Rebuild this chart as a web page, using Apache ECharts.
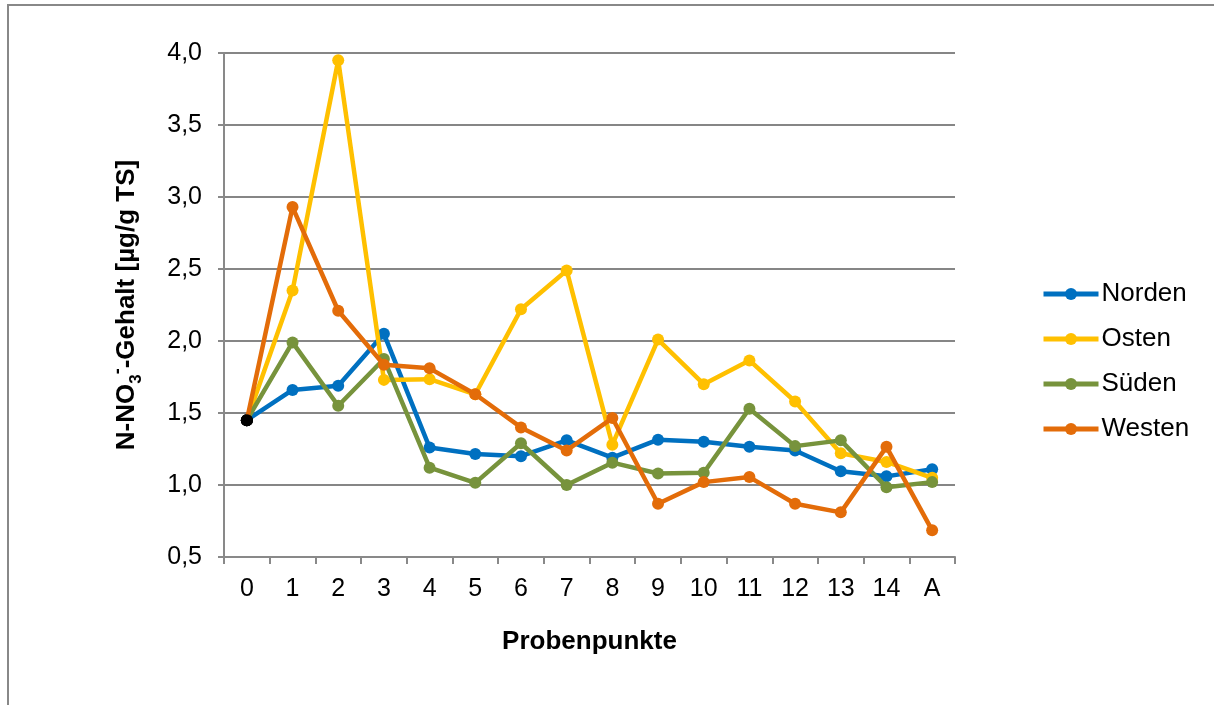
<!DOCTYPE html>
<html>
<head>
<meta charset="utf-8">
<script src="https://cdn.jsdelivr.net/npm/echarts@6/dist/echarts.min.js"></script>
<style>
  html, body { margin: 0; padding: 0; background: #fff; }
  #frame { position: absolute; left: 7px; top: 4px; width: 1207px; height: 701px; z-index: 10;
    pointer-events: none; border-top: 2px solid #888; border-left: 2px solid #888; box-sizing: border-box; }
  #chart { position: absolute; left: 0; top: 0; width: 1214px; height: 705px; }
</style>
</head>
<body>
<div id="chart"></div>
<div id="frame"></div>
<script>
// Probenpunkte
const categories = ['0', '1', '2', '3', '4', '5', '6', '7', '8', '9', '10', '11', '12', '13', '14', 'A']

// N-NO3- Gehalt je Richtung
const norden = [1.45, 1.66, 1.69, 2.05, 1.26, 1.215, 1.2, 1.31, 1.19, 1.315, 1.3, 1.265, 1.24, 1.095, 1.06, 1.11]
const osten = [1.45, 2.35, 3.95, 1.73, 1.735, 1.63, 2.22, 2.49, 1.28, 2.01, 1.70, 1.865, 1.58, 1.22, 1.16, 1.05]
const sueden = [1.45, 1.99, 1.55, 1.875, 1.12, 1.015, 1.29, 1.0, 1.155, 1.08, 1.085, 1.53, 1.27, 1.31, 0.985, 1.02]
const westen = [1.45, 2.93, 2.21, 1.835, 1.81, 1.63, 1.40, 1.24, 1.465, 0.87, 1.02, 1.055, 0.87, 0.81, 1.265, 0.685]

const seriesNames = ['Norden', 'Osten', 'Süden', 'Westen']
const seriesColors = ['#0070C0', '#FFC000', '#77933C', '#E36C09']
const seriesValues = [norden, osten, sueden, westen]

const font = 'Liberation Sans, Arial, sans-serif'

let myChart = echarts.init(document.getElementById('chart'))

let series = seriesNames.map((name, k) => {
  return {
    name: name,
    type: 'line',
    symbol: 'circle',
    symbolSize: 12,
    lineStyle: { width: 4.5, color: seriesColors[k] },
    itemStyle: { color: seriesColors[k] },
    // erster Punkt schwarz
    data: seriesValues[k].map((v, i) => i === 0 ? { value: v, itemStyle: { color: '#000' } } : v),
    z: 2 + k
  }
})

let option = {
  backgroundColor: '#fff',
  animation: false,
  textStyle: { fontFamily: font },
  grid: {
    left: 224,
    top: 53,
    width: 731,
    height: 504
  },
  legend: {
    orient: 'vertical',
    left: 1036,
    top: 276,
    itemWidth: 55,
    itemHeight: 15,
    itemGap: 19,
    data: seriesNames,
    lineStyle: { width: 5 },
    textStyle: { fontSize: 26, lineHeight: 26, color: '#000', fontFamily: font, padding: [0, 0, 0, -2] }
  },
  xAxis: {
    type: 'category',
    data: categories,
    boundaryGap: true,
    name: 'Probenpunkte',
    nameLocation: 'middle',
    nameGap: 72,
    nameTextStyle: { fontSize: 26, fontWeight: 'bold', color: '#000', fontFamily: font },
    axisLine: { lineStyle: { color: '#898989', width: 2 } },
    axisTick: { show: true, interval: 0, length: 7, lineStyle: { color: '#898989', width: 2 } },
    axisLabel: { fontSize: 25, color: '#000', margin: 20, fontFamily: font, interval: 0 }
  },
  yAxis: {
    type: 'value',
    min: 0.5,
    max: 4.0,
    interval: 0.5,
    name: '{b|N-NO}{sub|3}{sup|-}{b|-Gehalt [µg/g TS]}',
    nameLocation: 'middle',
    nameRotate: 90,
    nameGap: 79,
    nameTextStyle: {
      fontFamily: font,
      color: '#000',
      rich: {
        b: { fontSize: 26, fontWeight: 'bold', fontFamily: font, color: '#000', lineHeight: 36, verticalAlign: 'middle' },
        sub: { fontSize: 17, fontWeight: 'bold', fontFamily: font, color: '#000', lineHeight: 36, verticalAlign: 'bottom' },
        sup: { fontSize: 18, fontWeight: 'bold', fontFamily: font, color: '#000', lineHeight: 36, verticalAlign: 'top' }
      }
    },
    axisLine: { show: true, lineStyle: { color: '#898989', width: 2 } },
    axisTick: { show: true, length: 6, lineStyle: { color: '#898989', width: 2 } },
    splitLine: { show: true, lineStyle: { color: '#868686', width: 2 } },
    axisLabel: {
      fontSize: 25,
      color: '#000',
      margin: 22,
      fontFamily: font,
      formatter: v => v.toFixed(1).replace('.', ',')
    }
  },
  series: series
}

myChart.setOption(option)
</script>
</body>
</html>
